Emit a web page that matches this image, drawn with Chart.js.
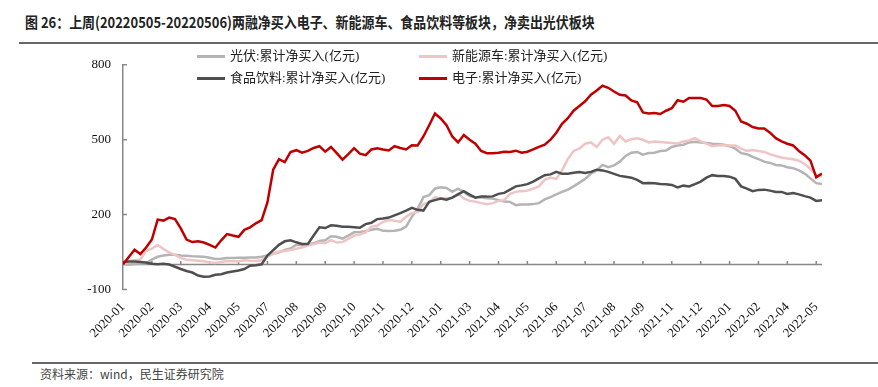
<!DOCTYPE html>
<html>
<head>
<meta charset="utf-8">
<script src="https://cdn.jsdelivr.net/npm/chart.js@4.4.0/dist/chart.umd.min.js"></script>
<style>
  body { margin: 0; width: 878px; height: 387px; background: #fff; position: relative; overflow: hidden; font-family: "Noto Sans CJK SC", sans-serif; }
  #title { position: absolute; left: 25px; top: 12px; font-size: 15px; line-height: 20px; font-weight: bold; color: #222; white-space: nowrap; transform-origin: 0 0; }
  #ruleTop { position: absolute; left: 19px; right: 0; top: 42px; height: 2px; background: #666; }
  #wrap { position: absolute; left: 0; top: 45px; width: 878px; height: 300px; }
  .lg-line { position: absolute; width: 28px; height: 3px; }
  .lg-text { position: absolute; font-family: "Liberation Serif", "Noto Sans CJK SC", serif; font-size: 13px; line-height: 16px; color: #222; white-space: nowrap; }
  #ruleBottom { position: absolute; left: 32px; right: 0; top: 362px; height: 2px; background: #666; }
  #source { position: absolute; left: 40px; top: 365px; font-size: 12px; line-height: 17px; color: #444; }
</style>
</head>
<body>
<div id="title">图 26：上周(20220505-20220506)两融净买入电子、新能源车、食品饮料等板块，净卖出光伏板块</div>
<div id="ruleTop"></div>
<div id="wrap"><canvas id="chart"></canvas></div>
<div id="legend"></div>
<div id="ruleBottom"></div>
<div id="source">资料来源：wind，民生证券研究院</div>

<script>
// x tick labels, one every 5 points
const tickLabels = ['2020-01', '2020-02', '2020-03', '2020-04', '2020-05', '2020-07', '2020-08', '2020-09',
  '2020-10', '2020-11', '2020-12', '2021-01', '2021-03', '2021-04', '2021-05', '2021-06', '2021-07',
  '2021-08', '2021-09', '2021-11', '2021-12', '2022-01', '2022-02', '2022-04', '2022-05'];
const tickEvery = 5;

const yTicks = [-100, 200, 500, 800];

// 光伏:累计净买入(亿元)
const solar = [0, 0, 2, 3, 5, 20, 31, 36, 39, 39, 36, 35, 33, 32, 31, 27, 22, 23, 26, 26,
  27, 27, 28, 28, 31, 36, 43, 49, 58, 64, 79, 77, 81, 85, 94, 97, 113, 111, 104, 116,
  129, 130, 133, 139, 143, 135, 134, 135, 139, 152, 191, 223, 270, 278, 304, 309, 307, 291, 304, 291,
  274, 270, 268, 265, 264, 258, 252, 251, 238, 240, 240, 242, 246, 261, 270, 281, 291, 300, 313, 328,
  343, 364, 377, 399, 390, 397, 412, 435, 448, 451, 440, 447, 448, 455, 457, 471, 477, 480, 489, 492,
  489, 487, 484, 483, 480, 474, 464, 446, 442, 431, 422, 412, 407, 399, 397, 390, 386, 377, 364, 345,
  326, 323];

// 新能源车:累计净买入(亿元)
const nev = [0, 14, 17, 20, 55, 64, 78, 62, 49, 39, 26, 19, 17, 15, 13, 8, 6, 10, 14, 13,
  13, 17, 15, 14, 17, 33, 43, 52, 54, 58, 63, 68, 77, 81, 88, 85, 98, 88, 90, 103,
  116, 120, 129, 152, 155, 171, 178, 175, 171, 191, 206, 210, 242, 249, 270, 265, 265, 268, 283, 265,
  255, 252, 246, 242, 246, 255, 258, 283, 291, 294, 296, 304, 313, 339, 348, 343, 377, 422, 455, 464,
  484, 489, 471, 500, 510, 484, 515, 493, 502, 506, 500, 489, 493, 491, 489, 487, 484, 493, 497, 506,
  493, 484, 474, 477, 479, 477, 477, 464, 455, 459, 455, 451, 442, 435, 429, 425, 422, 416, 403, 384,
  358, 354];

// 食品饮料:累计净买入(亿元)
const food = [10, 12, 12, 10, 8, 3, 1, 3, 0, -9, -18, -26, -32, -44, -49, -48, -41, -39, -32, -28,
  -24, -18, -5, -3, 1, 36, 58, 79, 93, 97, 89, 82, 82, 116, 149, 146, 157, 155, 151, 151,
  149, 147, 162, 167, 182, 184, 188, 197, 206, 216, 227, 219, 216, 251, 258, 264, 260, 268, 281, 294,
  280, 268, 272, 272, 273, 283, 287, 300, 313, 317, 322, 332, 345, 358, 361, 371, 364, 364, 368, 371,
  367, 371, 380, 377, 371, 363, 355, 352, 348, 339, 326, 327, 326, 323, 322, 319, 309, 316, 313, 322,
  332, 348, 358, 355, 355, 352, 343, 313, 304, 294, 299, 300, 296, 291, 291, 283, 286, 281, 274, 268,
  255, 258];

// 电子:累计净买入(亿元)
const electronics = [0, 30, 59, 42, 68, 100, 180, 176, 188, 182, 145, 100, 90, 93, 88, 79, 68, 97, 122, 116,
  111, 139, 149, 165, 178, 249, 380, 422, 410, 451, 458, 448, 455, 467, 474, 452, 471, 446, 420, 442,
  466, 444, 438, 461, 466, 461, 457, 474, 467, 461, 478, 477, 513, 558, 605, 585, 558, 513, 489, 519,
  500, 484, 455, 446, 446, 448, 452, 451, 456, 448, 452, 461, 471, 480, 500, 528, 564, 586, 616, 635,
  654, 680, 697, 716, 708, 693, 680, 677, 657, 650, 609, 605, 607, 603, 616, 626, 658, 652, 667, 667,
  667, 661, 635, 635, 639, 635, 616, 573, 564, 551, 545, 545, 528, 506, 493, 484, 477, 455, 438, 416,
  349, 365];

const series = [
  { label: '光伏:累计净买入(亿元)', data: solar, color: '#b4b4b4', order: 3, lx: 197, ly: 56 },
  { label: '新能源车:累计净买入(亿元)', data: nev, color: '#efc4c4', order: 2, lx: 419, ly: 56 },
  { label: '食品饮料:累计净买入(亿元)', data: food, color: '#4f4f4f', order: 1, lx: 197, ly: 78 },
  { label: '电子:累计净买入(亿元)', data: electronics, color: '#c00000', order: 0, lx: 419, ly: 78 }
];

// fit the title to the reference width
const title = document.getElementById('title');
title.style.transform = 'scaleX(' + (570 / title.offsetWidth) + ')';

// legend in two columns
const legend = document.getElementById('legend');
series.forEach(s => {
  const line = document.createElement('div');
  line.className = 'lg-line';
  line.style.left = s.lx + 'px';
  line.style.top = (s.ly - 1.5) + 'px';
  line.style.background = s.color;
  legend.appendChild(line);
  const txt = document.createElement('div');
  txt.className = 'lg-text';
  txt.style.left = (s.lx + 33) + 'px';
  txt.style.top = (s.ly - 8) + 'px';
  txt.textContent = s.label;
  legend.appendChild(txt);
});

// zero line with small upward ticks, and inward y ticks
const axisMarks = {
  id: 'axisMarks',
  beforeDatasetsDraw(chart) {
    const { ctx, chartArea, scales: { x, y } } = chart;
    const y0 = y.getPixelForValue(0);
    ctx.save();
    ctx.strokeStyle = '#888';
    ctx.lineWidth = 1.5;
    ctx.beginPath();
    ctx.moveTo(chartArea.left, y0);
    ctx.lineTo(chartArea.right, y0);
    x.ticks.forEach(t => {
      const px = x.getPixelForValue(t.value);
      ctx.moveTo(px, y0);
      ctx.lineTo(px, y0 - 3.5);
    });
    y.ticks.forEach(t => {
      const py = y.getPixelForValue(t.value);
      ctx.moveTo(chartArea.left, py);
      ctx.lineTo(chartArea.left + 4, py);
    });
    ctx.stroke();
    ctx.restore();
  }
};

Chart.defaults.font.family = '"Liberation Serif", "Times New Roman", serif';
Chart.defaults.color = '#111';

new Chart(document.getElementById('chart'), {
  type: 'line',
  data: {
    datasets: series.map(s => ({
      label: s.label,
      data: s.data.map((v, i) => ({ x: i, y: v })),
      borderColor: s.color,
      backgroundColor: s.color,
      borderWidth: 2.5,
      pointRadius: 0,
      tension: 0,
      order: s.order
    }))
  },
  options: {
    responsive: true,
    maintainAspectRatio: false,
    animation: false,
    layout: { padding: { left: 60, right: 56, top: 11, bottom: 0 } },
    plugins: { legend: { display: false }, tooltip: { enabled: false } },
    scales: {
      x: {
        type: 'linear',
        min: 0,
        max: solar.length - 1,
        afterBuildTicks: axis => {
          axis.ticks = tickLabels.map((_, k) => ({ value: k * tickEvery }));
        },
        afterFit: axis => { axis.height = 55.5; },
        ticks: {
          autoSkip: false,
          maxRotation: 45,
          minRotation: 45,
          padding: 10,
          font: { size: 13 },
          callback: v => tickLabels[v / tickEvery]
        },
        grid: { display: false, drawTicks: false },
        border: { display: false }
      },
      y: {
        min: yTicks[0],
        max: yTicks[yTicks.length - 1],
        afterBuildTicks: axis => {
          axis.ticks = yTicks.map(v => ({ value: v }));
        },
        afterFit: axis => { axis.width = 63; },
        ticks: { padding: 12, font: { size: 13 } },
        grid: { drawOnChartArea: false, drawTicks: false },
        border: { display: true, color: '#888', width: 1.5 }
      }
    }
  },
  plugins: [axisMarks]
});
</script>
</body>
</html>
